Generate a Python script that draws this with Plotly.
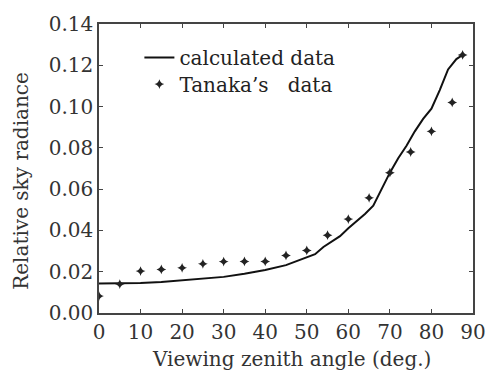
import plotly.graph_objects as go

# calculated data (line)
calc_x = [0, 5, 10, 15, 20, 25, 30, 35, 40, 45, 50, 52, 54, 56, 58, 60, 62, 64, 66,
          68, 70, 72, 74, 76, 78, 80, 82, 84, 86, 87.5]
calc_y = [0.0143, 0.0143, 0.0145, 0.0150, 0.0158, 0.0165, 0.0175, 0.0190, 0.0208,
          0.0232, 0.0268, 0.0285, 0.0320, 0.0345, 0.0372, 0.0410, 0.0445, 0.0480,
          0.0520, 0.0600, 0.0680, 0.0750, 0.0810, 0.0880, 0.0940, 0.0990, 0.1080,
          0.1180, 0.1230, 0.1250]

# Tanaka's data (markers)
tanaka_x = [0, 5, 10, 15, 20, 25, 30, 35, 40, 45, 50, 55, 60, 65, 70, 75, 80, 85, 87.5]
tanaka_y = [0.0082, 0.0140, 0.0203, 0.0211, 0.0219, 0.0238, 0.0249, 0.0250, 0.0250,
            0.0279, 0.0303, 0.0377, 0.0455, 0.0558, 0.0680, 0.0780, 0.0880, 0.1020,
            0.1250]

x_ticks = [0, 10, 20, 30, 40, 50, 60, 70, 80, 90]
y_ticks = [0.00, 0.02, 0.04, 0.06, 0.08, 0.10, 0.12, 0.14]

FONT = "DejaVu Serif"
AX = "#444444"
TXT = "#333333"
FS = 20

fig = go.Figure()
fig.add_trace(go.Scatter(x=calc_x, y=calc_y, mode="lines", name="calculated data",
                         line=dict(color="#111111", width=2), legend="legend"))
fig.add_trace(go.Scatter(x=tanaka_x, y=tanaka_y, mode="markers", name="Tanaka’s   data",
                         marker=dict(symbol="star-diamond", size=7, color="#222222"),
                         legend="legend2"))

axis_common = dict(showline=True, linecolor=AX, linewidth=1.5, mirror="ticks",
                   ticks="inside", ticklen=4, tickwidth=1, tickcolor=AX,
                   showgrid=False, zeroline=False,
                   tickfont=dict(family=FONT, size=FS, color=TXT))

fig.update_xaxes(range=[0, 90], tickvals=x_ticks, ticktext=[str(v) for v in x_ticks],
                 **axis_common)
fig.update_yaxes(range=[0, 0.14], tickvals=y_ticks, ticktext=[f"{v:.2f}" for v in y_ticks],
                 **axis_common)

fig.add_annotation(text="Viewing zenith angle (deg.)", xref="paper", yref="paper",
                   x=0.514, y=-0.159, xanchor="center", yanchor="middle", showarrow=False,
                   font=dict(family=FONT, size=FS, color=TXT))
fig.add_annotation(text="Relative sky radiance", xref="paper", yref="paper",
                   x=-0.207, y=0.456, xanchor="center", yanchor="middle", showarrow=False,
                   textangle=-90, font=dict(family=FONT, size=FS, color=TXT))

legend_common = dict(xanchor="left", yanchor="middle", bgcolor="rgba(0,0,0,0)",
                     font=dict(family=FONT, size=FS, color="#222222"))
fig.update_layout(width=498, height=377, margin=dict(l=99, r=18, t=17, b=64),
                  plot_bgcolor="white", paper_bgcolor="white",
                  showlegend=True,
                  legend=dict(x=0.108, y=0.884, **legend_common),
                  legend2=dict(x=0.108, y=0.792, **legend_common),
                  font=dict(family=FONT))

fig.write_html("out.html")
